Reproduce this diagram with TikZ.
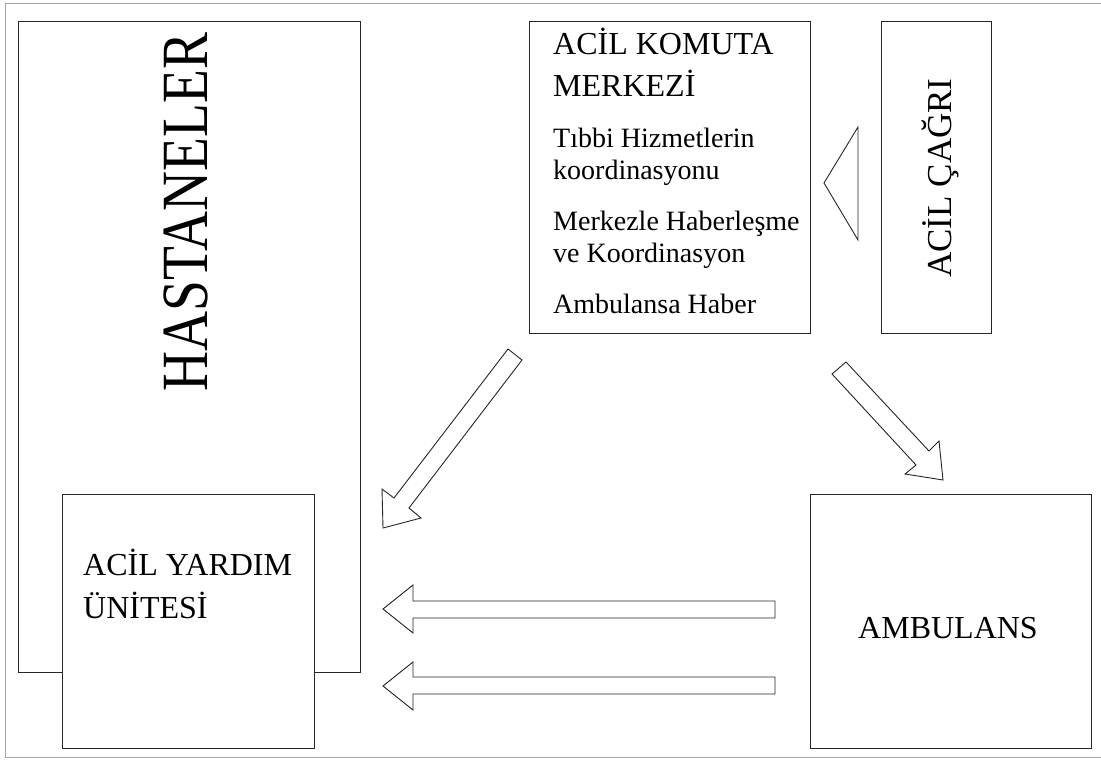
\documentclass[tikz,border=0pt]{standalone}
\usepackage{fontspec}
\setmainfont{Liberation Serif}
\begin{document}
\begin{tikzpicture}[x=1pt,y=-1pt,
  box/.style={draw=black!85,line width=1pt,fill=white,inner sep=0pt,anchor=north west},
  blk/.style={draw=black!85,line width=0.9pt,fill=white,line join=miter},
  big/.style={inner sep=0pt,font=\fontsize{32}{41}\selectfont},
  small/.style={inner sep=0pt,font=\fontsize{28}{32}\selectfont,anchor=base west}]
\useasboundingbox (0,0) rectangle (1101,760);
\fill[white] (0,0) rectangle (1101,760);
% frame
\draw[black!35,line width=1pt] (1101,4) -- (5,4) -- (5,757) -- (1101,757);
% boxes
\node[box,minimum width=342pt,minimum height=651pt] (hast) at (18,21) {};
\node[box,minimum width=252pt,minimum height=254pt] (ayu) at (62,494) {};
\node[box,minimum width=281pt,minimum height=312pt] (akm) at (529,21) {};
\node[box,minimum width=110pt,minimum height=312pt] (cagri) at (881,21) {};
\node[box,minimum width=281pt,minimum height=254pt] (amb) at (810,494) {};
% texts
\node[inner sep=0pt,rotate=90,anchor=base] (thast) at (207,212)
  {\scalebox{0.84}[1]{\fontsize{66}{70}\selectfont HASTANELER}};
\node[inner sep=0pt,font=\fontsize{35}{41}\selectfont,rotate=90,anchor=base] (tcagri) at (951,178) {ACİL ÇAĞRI};
\node[big,anchor=base west] (tayu1) at (83,575) {ACİL YARDIM};
\node[big,anchor=base west] (tayu2) at (83,618) {ÜNİTESİ};
\node[big,anchor=base] (tamb) at (948,638) {AMBULANS};
\node[big,anchor=base west] (takm1) at (553,55) {ACİL KOMUTA};
\node[big,anchor=base west] (takm2) at (553,96) {MERKEZİ};
\node[small] (s1) at (553,147) {Tıbbi Hizmetlerin};
\node[small] (s2) at (553,179) {koordinasyonu};
\node[small] (s3) at (553,230) {Merkezle Haberleşme};
\node[small] (s4) at (553,262) {ve Koordinasyon};
\node[small] (s5) at (553,313) {Ambulansa Haber};
% triangle
\draw[blk] (824,183) -- (858,127) -- (858,240) -- cycle;
% block arrows
\draw[blk] (508,349) -- (522,360) -- (409,508) -- (421,518) -- (383,528) -- (382,489) -- (394,498) -- cycle;
\draw[blk] (846,362) -- (929,451) -- (939,441) -- (943,480) -- (905,474) -- (916,465) -- (832,374) -- cycle;
\draw[blk] (775,601) -- (413,601) -- (413,585) -- (383,609) -- (413,633) -- (413,618) -- (775,618) -- cycle;
\draw[blk] (775,677) -- (413,677) -- (413,662) -- (383,686) -- (413,710) -- (413,694) -- (775,694) -- cycle;
\end{tikzpicture}
\end{document}
